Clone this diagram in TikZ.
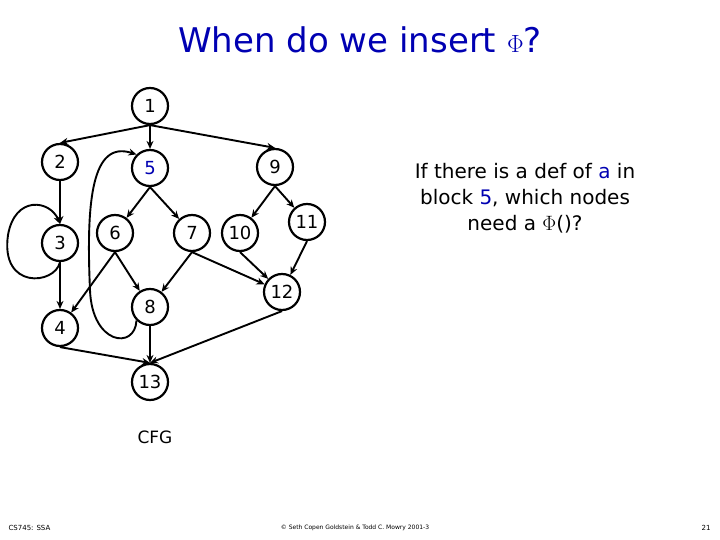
\documentclass[tikz,border=0pt]{standalone}
\usepackage{fontspec}
\setmainfont{DejaVu Sans}
\usetikzlibrary{arrows.meta}
\begin{document}
\begin{tikzpicture}[x=1pt,y=-1pt,
  bb/.style={circle,draw,line width=2.2pt,minimum size=36pt,inner sep=0pt,font=\fontsize{18}{20}\selectfont},
  ed/.style={line width=1.9pt,-{Stealth[length=8pt,width=7pt]}}]
\useasboundingbox (0,0) rectangle (720,540);
\node[font=\fontsize{34}{38}\selectfont,text=blue!70!black] (title) at (360,40) {When do we insert $\Phi$?};
\node[bb] (n1) at (150,106) {1};
\node[bb] (n2) at (60,162) {2};
\node[bb] (n5) at (150,168) {\textcolor{blue!70!black}{5}};
\node[bb] (n9) at (275,167) {9};
\node[bb] (n3) at (60,243) {3};
\node[bb] (n6) at (115,233) {6};
\node[bb] (n7) at (192,233) {7};
\node[bb] (n10) at (240,233) {10};
\node[bb] (n11) at (307,222) {11};
\node[bb] (n8) at (150,307) {8};
\node[bb] (n12) at (282,292) {12};
\node[bb] (n4) at (60,328) {4};
\node[bb] (n13) at (150,382) {13};
\draw[ed] (n1.south) -- (n2.north);
\draw[ed] (n1.south) -- (n5.north);
\draw[ed] (n1.south) -- (n9.north);
\draw[ed] (n2) -- (n3);
\draw[ed] (n3) -- (n4);
\draw[ed] (n3.south) .. controls (55,285) and (0,290) .. (8,235) .. controls (15,195) and (50,200) .. (n3.north);
\draw[ed] (n5.south) -- (n6);
\draw[ed] (n5.south) -- (n7);
\draw[ed] (n6.south) -- (n4);
\draw[ed] (n6.south) -- (n8);
\draw[ed] (n7.south) -- (n8);
\draw[ed] (n7.south) -- (n12);
\draw[ed] (n9.south) -- (n10);
\draw[ed] (n9.south) -- (n11);
\draw[ed] (n10.south) -- (n12);
\draw[ed] (n11.south) -- (n12);
\draw[ed] (n8) -- (n13);
\draw[ed] (n4.south) -- (n13.north);
\draw[ed] (n12.south) -- (n13.north);
\draw[ed] (n8.south west) .. controls (135,350) and (92,345) .. (90,290) .. controls (86,200) and (92,140) .. (n5.north west);
\node[font=\fontsize{20}{26}\selectfont,align=center] (q) at (525,198) {If there is a def of \textcolor{blue!70!black}{a} in\\ block \textcolor{blue!70!black}{5}, which nodes\\ need a $\Phi$()?};
\node[font=\fontsize{17}{20}\selectfont] (cfg) at (155,437) {CFG};
\node[font=\fontsize{7}{8}\selectfont,anchor=west] (f1) at (5,528) {CS745: SSA};
\node[font=\fontsize{6}{8}\selectfont] (f2) at (355,528) {© Seth Copen Goldstein \& Todd C. Mowry 2001-3};
\node[font=\fontsize{7}{8}\selectfont] (f3) at (706,528) {21};
\end{tikzpicture}
\end{document}
